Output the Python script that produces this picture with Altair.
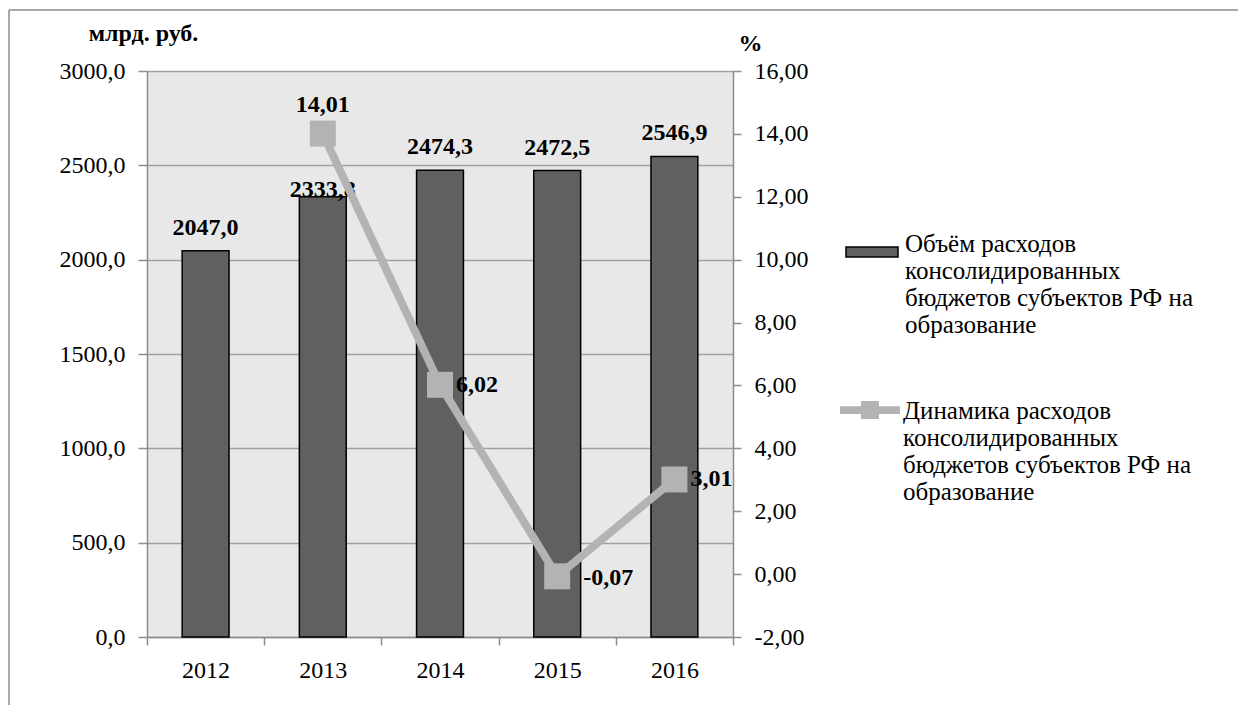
import altair as alt
import pandas as pd

years = ["2012", "2013", "2014", "2015", "2016"]
expenses = [2047.0, 2333.8, 2474.3, 2472.5, 2546.9]
growth = [None, 14.01, 6.02, -0.07, 3.01]
left_ticks = [0, 500, 1000, 1500, 2000, 2500, 3000]
right_ticks = [-2, 0, 2, 4, 6, 8, 10, 12, 14, 16]
bar_series = "Объём расходов|консолидированных|бюджетов субъектов РФ на|образование"
line_series = "Динамика расходов|консолидированных|бюджетов субъектов РФ на|образование"

df = pd.DataFrame({
    "year": years,
    "expenses": expenses,
    "growth": growth,
    "bar_series": [bar_series] * len(years),
    "line_series": [line_series] * len(years),
})

FONT = "Liberation Serif"
AXIS_GRAY = "#8c8c8c"
BAR_COLOR = "#606060"
LINE_COLOR = "#b3b3b3"

base = alt.Chart(df)

x_enc = alt.X(
    "year:N",
    scale=alt.Scale(paddingInner=0, paddingOuter=0),
    axis=alt.Axis(
        title=None, labelAngle=0, tickBand="extent", labelFont=FONT,
        labelFontSize=24, labelColor="black", labelPadding=13, tickSize=8,
        tickColor=AXIS_GRAY, tickWidth=1.5, domainColor=AXIS_GRAY,
        domainWidth=1.5, grid=False,
    ),
)

y_left = alt.Y(
    "expenses:Q",
    scale=alt.Scale(domain=[0, 3000], nice=False),
    axis=alt.Axis(
        values=left_ticks,
        labelExpr="replace(format(datum.value, '.1f'), '.', ',')",
        title="млрд. руб.", titleAngle=0, titleX=-4, titleY=-31,
        titleAlign="center", titleBaseline="alphabetic", titleFont=FONT,
        titleFontSize=24, titleFontWeight="bold", titleColor="black",
        labelFont=FONT, labelFontSize=24, labelColor="black",
        labelPadding=13, tickSize=9, tickColor=AXIS_GRAY, tickWidth=1.5,
        domainColor=AXIS_GRAY, domainWidth=1.5, grid=True,
        gridColor="#a0a0a0", gridWidth=1.5,
    ),
)

y_right = alt.Y(
    "growth:Q",
    scale=alt.Scale(domain=[-2, 16], nice=False),
    axis=alt.Axis(
        orient="right", values=right_ticks,
        labelExpr="(datum.value < 0 ? '-' : '') + replace(format(abs(datum.value), '.2f'), '.', ',')",
        title="%", titleAngle=0, titleX=17, titleY=-21,
        titleAlign="center", titleBaseline="alphabetic", titleFont=FONT,
        titleFontSize=24, titleFontWeight="bold", titleColor="black",
        labelFont=FONT, labelFontSize=24, labelColor="black",
        labelPadding=13, tickSize=8, tickColor=AXIS_GRAY, tickWidth=1.5,
        domainColor=AXIS_GRAY, domainWidth=1.5, grid=False,
    ),
)

bars = base.mark_bar(
    width=alt.RelativeBandSize(0.4), stroke="black", strokeWidth=1.5
).encode(
    x=x_enc,
    y=y_left,
    color=alt.Color(
        "bar_series:N",
        scale=alt.Scale(domain=[bar_series], range=[BAR_COLOR]),
        legend=alt.Legend(
            title=None, orient="none", legendX=698, legendY=134, padding=0,
            symbolType="M-1,0.58H1V0.96H-1Z", symbolSize=2704,
            symbolFillColor=BAR_COLOR, symbolStrokeColor="black",
            symbolStrokeWidth=1.5, symbolOpacity=1,
            labelFont=FONT, labelFontSize=25, labelColor="black",
            labelBaseline="top", labelExpr="split(datum.label, '|')",
            labelLimit=500, labelOffset=6,
        ),
    ),
)

bar_label_calc = "replace(format(datum.expenses, '.1f'), '.', ',')"
bar_text_main = base.transform_filter(
    "datum.year != '2013'"
).transform_calculate(lbl=bar_label_calc).mark_text(
    font=FONT, fontSize=24, fontWeight="bold", color="black",
    baseline="alphabetic", dy=-16,
).encode(x=x_enc, y=y_left, text="lbl:N")

bar_text_2013 = base.transform_filter(
    "datum.year == '2013'"
).transform_calculate(lbl=bar_label_calc).mark_text(
    font=FONT, fontSize=24, fontWeight="bold", color="black",
    baseline="alphabetic", dy=0,
).encode(x=x_enc, y=y_left, text="lbl:N")

frame_data = alt.Data(values=[{"k": 1}])
frame_top = alt.Chart(frame_data).mark_rule(color=AXIS_GRAY, strokeWidth=1.5).encode(
    x=alt.value(-138), x2=alt.value(1200), y=alt.value(-61)
)
frame_left = alt.Chart(frame_data).mark_rule(color=AXIS_GRAY, strokeWidth=1.5).encode(
    x=alt.value(-138), y=alt.value(-61), y2=alt.value(700)
)

left = alt.layer(frame_top, frame_left, bars, bar_text_main, bar_text_2013)

valid = base.transform_filter("isValid(datum.growth)")

line = valid.mark_line(color=LINE_COLOR, strokeWidth=8).encode(x=x_enc, y=y_right)

points = valid.mark_square(size=676, opacity=1, filled=True).encode(
    x=x_enc,
    y=y_right,
    color=alt.Color(
        "line_series:N",
        scale=alt.Scale(domain=[line_series], range=[LINE_COLOR]),
        legend=alt.Legend(
            title=None, orient="none", legendX=693, legendY=298, padding=0,
            symbolType="M-1,0.24H-0.3V0.07H0.3V0.24H1V0.5H0.3V0.67H-0.3V0.5H-1Z",
            symbolSize=3600, symbolFillColor=LINE_COLOR, symbolStrokeWidth=0,
            symbolOpacity=1,
            labelFont=FONT, labelFontSize=25, labelColor="black",
            labelBaseline="top", labelExpr="split(datum.label, '|')",
            labelLimit=500, labelOffset=3,
        ),
    ),
)

line_label_calc = "(datum.growth < 0 ? '-' : '') + replace(format(abs(datum.growth), '.2f'), '.', ',')"

lt_2013 = valid.transform_filter("datum.year == '2013'").transform_calculate(
    lbl=line_label_calc
).mark_text(
    font=FONT, fontSize=24, fontWeight="bold", color="black",
    baseline="alphabetic", align="center", dy=-22,
).encode(x=x_enc, y=y_right, text="lbl:N")

lt_right = valid.transform_filter(
    "datum.year == '2014' || datum.year == '2016'"
).transform_calculate(lbl=line_label_calc).mark_text(
    font=FONT, fontSize=24, fontWeight="bold", color="black",
    baseline="middle", align="left", dx=16,
).encode(x=x_enc, y=y_right, text="lbl:N")

lt_2015 = valid.transform_filter("datum.year == '2015'").transform_calculate(
    lbl=line_label_calc
).mark_text(
    font=FONT, fontSize=24, fontWeight="bold", color="black",
    baseline="middle", align="left", dx=26, dy=2,
).encode(x=x_enc, y=y_right, text="lbl:N")

right = alt.layer(line, points, lt_2013, lt_right, lt_2015)

chart = alt.layer(left, right).resolve_scale(
    y="independent", color="independent"
).resolve_legend(color="independent").properties(
    width=586,
    height=566,
    autosize=alt.AutoSizeParams(type="none"),
    padding={"left": 139, "top": 63, "right": 505, "bottom": 68},
    background="white",
).configure(font=FONT).configure_axis(
    labelFont=FONT, titleFont=FONT
).configure_legend(
    labelFont=FONT
).configure_text(
    font=FONT
).configure_view(fill="#e8e8e8", strokeWidth=0)

chart.save("out.html", embed_options={"renderer": "svg", "actions": False})
